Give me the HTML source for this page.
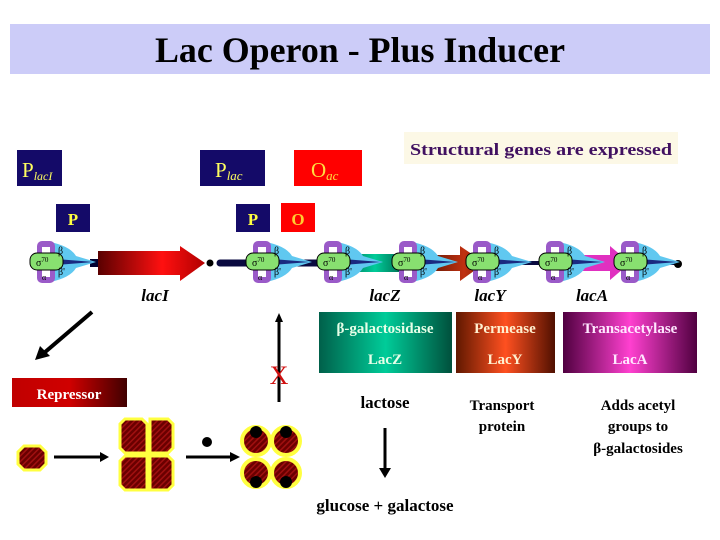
<!DOCTYPE html>
<html><head><meta charset="utf-8"><style>
html,body{margin:0;padding:0;background:#fff}
svg{display:block}
text{font-family:"Liberation Serif",serif}
</style></head><body>
<svg width="720" height="540" viewBox="0 0 720 540" xmlns="http://www.w3.org/2000/svg">
<defs>
<linearGradient id="red" x1="0" x2="1"><stop offset="0" stop-color="#5a0000"/><stop offset="0.6" stop-color="#ff1010"/><stop offset="1" stop-color="#b00000"/></linearGradient>
<linearGradient id="rep" x1="0" x2="1"><stop offset="0" stop-color="#c00000"/><stop offset="0.5" stop-color="#d00000"/><stop offset="1" stop-color="#400000"/></linearGradient>
<linearGradient id="teal" x1="0" x2="1"><stop offset="0" stop-color="#00604a"/><stop offset="0.5" stop-color="#00cc99"/><stop offset="1" stop-color="#00503c"/></linearGradient>
<linearGradient id="org" x1="0" x2="1"><stop offset="0" stop-color="#601800"/><stop offset="0.5" stop-color="#ff5020"/><stop offset="1" stop-color="#501000"/></linearGradient>
<linearGradient id="mag" x1="0" x2="1"><stop offset="0" stop-color="#500040"/><stop offset="0.5" stop-color="#ff40d0"/><stop offset="1" stop-color="#500040"/></linearGradient>
<linearGradient id="brn" x1="0" x2="1"><stop offset="0" stop-color="#401000"/><stop offset="0.7" stop-color="#c03010"/><stop offset="1" stop-color="#802000"/></linearGradient>
<pattern id="hatch" width="4" height="4" patternUnits="userSpaceOnUse" patternTransform="rotate(45)"><rect width="4" height="4" fill="#6a0000"/><rect width="1.5" height="4" fill="#a01010"/></pattern>
</defs>

<rect x="10" y="24" width="700" height="50" fill="#ccccf8"/>
<text x="360" y="62" text-anchor="middle" font-size="36" font-weight="bold" textLength="410" lengthAdjust="spacingAndGlyphs">Lac Operon - Plus Inducer</text>

<rect x="17" y="150" width="45" height="36" fill="#140a68"/>
<text x="22" y="177" font-size="21" fill="#ffff60">P<tspan font-size="12" font-style="italic" dy="3">lacI</tspan></text>
<rect x="200" y="150" width="65" height="36" fill="#140a68"/>
<text x="215" y="177" font-size="21" fill="#ffff60">P<tspan font-size="13" font-style="italic" dy="3">lac</tspan></text>
<rect x="294" y="150" width="68" height="36" fill="#ff0000"/>
<text x="311" y="177" font-size="21" fill="#ffdd40">O<tspan font-size="13" font-style="italic" dy="3">ac</tspan></text>

<rect x="404" y="132" width="274" height="32" fill="#fcf8e6"/>
<text x="541" y="155" text-anchor="middle" font-size="17" font-weight="bold" fill="#401060" textLength="262" lengthAdjust="spacingAndGlyphs">Structural genes are expressed</text>

<g font-weight="bold">
<rect x="56" y="204" width="34" height="28" fill="#140a68"/>
<text x="73" y="225" text-anchor="middle" font-size="17" fill="#ffff40">P</text>
<rect x="236" y="204" width="34" height="28" fill="#140a68"/>
<text x="253" y="225" text-anchor="middle" font-size="17" fill="#ffff40">P</text>
<rect x="281" y="203" width="34" height="29" fill="#ff0000"/>
<text x="298" y="225" text-anchor="middle" font-size="17" fill="#ffcc30">O</text>
</g>

<!-- DNA -->
<rect x="90" y="259" width="10" height="8" fill="#000030"/>
<line x1="220" y1="263" x2="340" y2="263" stroke="#0a0a40" stroke-width="7" stroke-linecap="round"/>
<line x1="340" y1="263" x2="680" y2="263" stroke="#0a0a40" stroke-width="4"/>
<polygon points="98,251 180,251 180,246 205,263 180,281 180,275 98,275" fill="url(#red)"/>
<circle cx="210" cy="263" r="3.5" fill="#000"/>
<rect x="340" y="254" width="70" height="18" fill="url(#teal)"/>
<polygon points="415,255 460,255 460,246 485,263 460,281 460,271 415,271" fill="url(#brn)"/>
<polygon points="545,255 610,255 610,246 630,263 610,280 610,271 545,271" fill="#e030c0"/>
<circle cx="678" cy="264" r="4" fill="#000"/>

<!-- polymerases -->
<g transform="translate(46,262)"><path d="M4,-20 Q24,-16 30,-6 L50,0 L30,6 Q24,16 4,20 Z" fill="#60c8f0"/><path d="M10,-3 L48,0 L10,3Z" fill="#1a2a80"/><rect x="-9" y="-21" width="18" height="42" rx="5" fill="#9a5ac8"/><rect x="-4" y="-15" width="8" height="30" fill="#fff"/><rect x="-16" y="-9" width="33" height="17" rx="7" fill="#88e070" stroke="#000" stroke-width="1"/><text x="-10" y="4" font-size="10">σ<tspan font-size="7" dy="-4">70</tspan></text><text x="12" y="-8" font-size="10">β</text><text x="12" y="13" font-size="10">β'</text><text x="-4" y="18" font-size="8">α</text></g>
<g transform="translate(262,262)"><path d="M4,-20 Q24,-16 30,-6 L50,0 L30,6 Q24,16 4,20 Z" fill="#60c8f0"/><path d="M10,-3 L48,0 L10,3Z" fill="#1a2a80"/><rect x="-9" y="-21" width="18" height="42" rx="5" fill="#9a5ac8"/><rect x="-4" y="-15" width="8" height="30" fill="#fff"/><rect x="-16" y="-9" width="33" height="17" rx="7" fill="#88e070" stroke="#000" stroke-width="1"/><text x="-10" y="4" font-size="10">σ<tspan font-size="7" dy="-4">70</tspan></text><text x="12" y="-8" font-size="10">β</text><text x="12" y="13" font-size="10">β'</text><text x="-4" y="18" font-size="8">α</text></g>
<g transform="translate(333,262)"><path d="M4,-20 Q24,-16 30,-6 L50,0 L30,6 Q24,16 4,20 Z" fill="#60c8f0"/><path d="M10,-3 L48,0 L10,3Z" fill="#1a2a80"/><rect x="-9" y="-21" width="18" height="42" rx="5" fill="#9a5ac8"/><rect x="-4" y="-15" width="8" height="30" fill="#fff"/><rect x="-16" y="-9" width="33" height="17" rx="7" fill="#88e070" stroke="#000" stroke-width="1"/><text x="-10" y="4" font-size="10">σ<tspan font-size="7" dy="-4">70</tspan></text><text x="12" y="-8" font-size="10">β</text><text x="12" y="13" font-size="10">β'</text><text x="-4" y="18" font-size="8">α</text></g>
<g transform="translate(408,262)"><path d="M4,-20 Q24,-16 30,-6 L50,0 L30,6 Q24,16 4,20 Z" fill="#60c8f0"/><path d="M10,-3 L48,0 L10,3Z" fill="#1a2a80"/><rect x="-9" y="-21" width="18" height="42" rx="5" fill="#9a5ac8"/><rect x="-4" y="-15" width="8" height="30" fill="#fff"/><rect x="-16" y="-9" width="33" height="17" rx="7" fill="#88e070" stroke="#000" stroke-width="1"/><text x="-10" y="4" font-size="10">σ<tspan font-size="7" dy="-4">70</tspan></text><text x="12" y="-8" font-size="10">β</text><text x="12" y="13" font-size="10">β'</text><text x="-4" y="18" font-size="8">α</text></g>
<g transform="translate(482,262)"><path d="M4,-20 Q24,-16 30,-6 L50,0 L30,6 Q24,16 4,20 Z" fill="#60c8f0"/><path d="M10,-3 L48,0 L10,3Z" fill="#1a2a80"/><rect x="-9" y="-21" width="18" height="42" rx="5" fill="#9a5ac8"/><rect x="-4" y="-15" width="8" height="30" fill="#fff"/><rect x="-16" y="-9" width="33" height="17" rx="7" fill="#88e070" stroke="#000" stroke-width="1"/><text x="-10" y="4" font-size="10">σ<tspan font-size="7" dy="-4">70</tspan></text><text x="12" y="-8" font-size="10">β</text><text x="12" y="13" font-size="10">β'</text><text x="-4" y="18" font-size="8">α</text></g>
<g transform="translate(555,262)"><path d="M4,-20 Q24,-16 30,-6 L50,0 L30,6 Q24,16 4,20 Z" fill="#60c8f0"/><path d="M10,-3 L48,0 L10,3Z" fill="#1a2a80"/><rect x="-9" y="-21" width="18" height="42" rx="5" fill="#9a5ac8"/><rect x="-4" y="-15" width="8" height="30" fill="#fff"/><rect x="-16" y="-9" width="33" height="17" rx="7" fill="#88e070" stroke="#000" stroke-width="1"/><text x="-10" y="4" font-size="10">σ<tspan font-size="7" dy="-4">70</tspan></text><text x="12" y="-8" font-size="10">β</text><text x="12" y="13" font-size="10">β'</text><text x="-4" y="18" font-size="8">α</text></g>
<g transform="translate(630,262)"><path d="M4,-20 Q24,-16 30,-6 L50,0 L30,6 Q24,16 4,20 Z" fill="#60c8f0"/><path d="M10,-3 L48,0 L10,3Z" fill="#1a2a80"/><rect x="-9" y="-21" width="18" height="42" rx="5" fill="#9a5ac8"/><rect x="-4" y="-15" width="8" height="30" fill="#fff"/><rect x="-16" y="-9" width="33" height="17" rx="7" fill="#88e070" stroke="#000" stroke-width="1"/><text x="-10" y="4" font-size="10">σ<tspan font-size="7" dy="-4">70</tspan></text><text x="12" y="-8" font-size="10">β</text><text x="12" y="13" font-size="10">β'</text><text x="-4" y="18" font-size="8">α</text></g>

<g font-size="17" font-style="italic" font-weight="bold" text-anchor="middle">
<text x="155" y="301">lacI</text><text x="385" y="301">lacZ</text><text x="490" y="301">lacY</text><text x="592" y="301">lacA</text>
</g>

<!-- lacI arrow -->
<line x1="92" y1="312" x2="44" y2="353" stroke="#000" stroke-width="4"/>
<polygon points="35,360 40,346 50,356" fill="#000"/>
<rect x="12" y="378" width="115" height="29" fill="url(#rep)"/>
<text x="69" y="399" text-anchor="middle" font-size="15" font-weight="bold" fill="#fff">Repressor</text>

<!-- vertical X line -->
<line x1="279" y1="320" x2="279" y2="402" stroke="#000" stroke-width="3"/>
<polygon points="279,313 275,322 283,322" fill="#000"/>
<text x="279" y="384" text-anchor="middle" font-size="26" fill="#d01010">X</text>

<!-- enzyme boxes -->
<rect x="319" y="312" width="133" height="61" fill="url(#teal)"/>
<rect x="456" y="312" width="99" height="61" fill="url(#org)"/>
<rect x="563" y="312" width="134" height="61" fill="url(#mag)"/>
<g font-size="15" font-weight="bold" text-anchor="middle">
<text x="385" y="333" fill="#e8ffe8">β-galactosidase</text><text x="385" y="364" fill="#e8ffe8">LacZ</text>
<text x="505" y="333" fill="#fff0d0">Permease</text><text x="505" y="364" fill="#fff0d0">LacY</text>
<text x="630" y="333" fill="#ffe8ff">Transacetylase</text><text x="630" y="364" fill="#ffe8ff">LacA</text>
</g>

<g font-size="17" font-weight="bold" text-anchor="middle">
<text x="385" y="408">lactose</text>
<text x="502" y="410" font-size="15">Transport</text><text x="502" y="431" font-size="15">protein</text>
<text x="638" y="410" font-size="15">Adds acetyl</text><text x="638" y="431" font-size="15">groups to</text><text x="638" y="453" font-size="15">β-galactosides</text>
<text x="385" y="511">glucose + galactose</text>
</g>
<line x1="385" y1="428" x2="385" y2="470" stroke="#000" stroke-width="3"/>
<polygon points="379,468 391,468 385,478" fill="#000"/>

<!-- repressor monomer & tetramers -->
<polygon points="24,446 40,446 46,452 46,464 40,470 24,470 18,464 18,452" fill="url(#hatch)" stroke="#ffff40" stroke-width="3"/>
<line x1="54" y1="457" x2="102" y2="457" stroke="#000" stroke-width="3"/>
<polygon points="100,452 109,457 100,462" fill="#000"/>
<g fill="url(#hatch)" stroke="#ffff40" stroke-width="3">
<polygon points="125,419 142,419 147,424 147,453 125,453 120,448 120,424"/>
<polygon points="150,419 168,419 173,424 173,448 168,453 150,453"/>
<polygon points="120,461 125,456 147,456 147,490 125,490 120,485"/>
<polygon points="150,456 168,456 173,461 173,485 168,490 150,490"/>
</g>
<circle cx="207" cy="442" r="5" fill="#000"/>
<line x1="186" y1="457" x2="232" y2="457" stroke="#000" stroke-width="3"/>
<polygon points="230,452 240,457 230,462" fill="#000"/>
<g fill="url(#hatch)" stroke="#ffff40" stroke-width="4">
<circle cx="256" cy="441" r="14"/><circle cx="286" cy="441" r="14"/>
<circle cx="256" cy="473" r="14"/><circle cx="286" cy="473" r="14"/>
</g>
<g fill="#000"><circle cx="256" cy="432" r="6"/><circle cx="286" cy="432" r="6"/><circle cx="256" cy="482" r="6"/><circle cx="286" cy="482" r="6"/></g>
</svg>
</body></html>
